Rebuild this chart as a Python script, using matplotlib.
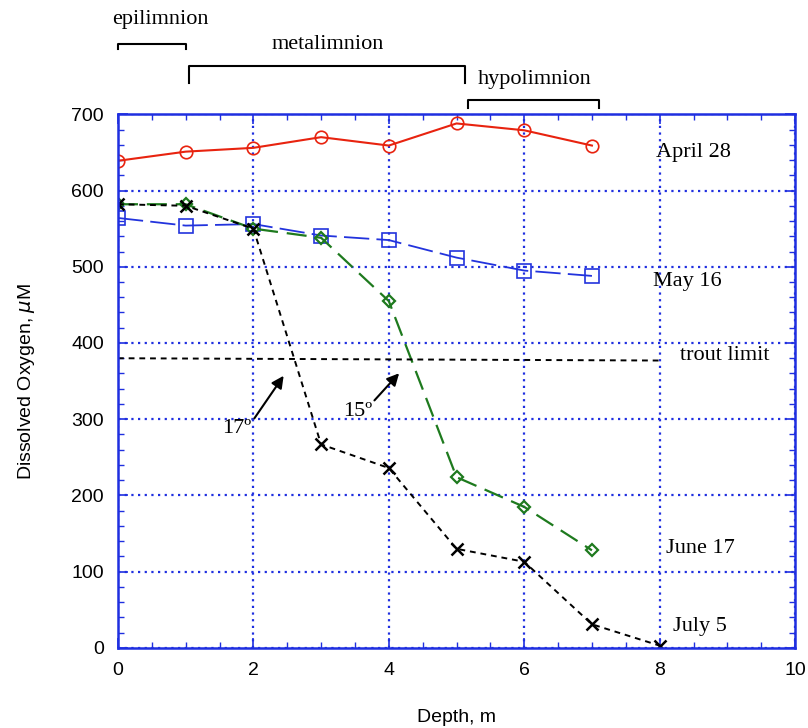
import matplotlib
matplotlib.use("Agg")
import matplotlib.pyplot as plt
from matplotlib.ticker import MultipleLocator

# depth (m) and dissolved oxygen (uM)
depth = [0, 1, 2, 3, 4, 5, 6, 7]
depth_jul = [0, 1, 2, 3, 4, 5, 6, 7, 8]
apr28 = [639, 651, 656, 670, 659, 688, 679, 659]
may16 = [564, 554, 556, 541, 535, 512, 495, 488]
jun17 = [582, 582, 550, 538, 455, 224, 185, 128]
jul05 = [582, 580, 550, 267, 236, 130, 113, 31, 3]
trout_x = [0, 8]
trout_y = [380, 377]

serif = ["Liberation Serif", "DejaVu Serif"]
sans = ["Liberation Sans", "DejaVu Sans"]
plt.rcParams['font.family'] = sans

fig = plt.figure(figsize=(8.08, 7.28), dpi=100)
ax = fig.add_axes([0.146, 0.110, 0.838, 0.733])

blue = "#1f2fe0"
ax.plot(depth, apr28, color="#e8230f", lw=1.5, marker="o", ms=9, mfc="none", mew=1.2)
ax.plot(depth, may16, color="#2233dd", lw=1.3, marker="s", ms=10, mfc="none", mew=1.2,
        dashes=(14, 4))
ax.plot(depth, jun17, color="#1e7a1e", lw=1.6, marker="D", ms=6.5, mfc="none", mew=1.6,
        dashes=(9, 4))
ax.plot(depth_jul, jul05, color="black", lw=1.4, marker="x", ms=9, mew=1.8,
        dashes=(3, 2.5))
ax.plot(trout_x, trout_y, color="black", lw=1.4, dashes=(3, 2.5))

ax.set_xlim(0, 10)
ax.set_ylim(0, 700)
ax.xaxis.set_major_locator(MultipleLocator(2))
ax.xaxis.set_minor_locator(MultipleLocator(0.5))
ax.yaxis.set_major_locator(MultipleLocator(100))
ax.yaxis.set_minor_locator(MultipleLocator(20))
ax.tick_params(which="both", direction="in", top=True, right=True, color=blue,
               labelsize=14)
ax.tick_params(which="major", length=7, width=1.2, pad=10)
ax.tick_params(which="minor", length=4, width=1)
for s in ax.spines.values():
    s.set_color(blue)
    s.set_linewidth(1.8)
ax.grid(True, which="major", color=blue, ls=(0, (1, 2)), lw=1.6)
ax.set_axisbelow(True)

ax.set_xlabel("Depth, m", fontsize=14, labelpad=22)
ax.set_ylabel("Dissolved Oxygen, $\\mu$M", fontsize=14, labelpad=25)

tk = dict(fontsize=16, family=serif)
ax.text(7.95, 650, "April 28", va="center", **tk)
ax.text(7.9, 481, "May 16", va="center", **tk)
ax.text(8.3, 383, "trout limit", va="center", **tk)
ax.text(8.1, 130, "June 17", va="center", **tk)
ax.text(8.2, 28, "July 5", va="center", **tk)

ax.annotate("", xy=(2.47, 360), xytext=(1.99, 298),
            arrowprops=dict(arrowstyle="-|>", color="black", lw=1.5, mutation_scale=18))
ax.text(1.97, 288, "17º", ha="right", va="center", **tk)
ax.annotate("", xy=(4.18, 363), xytext=(3.76, 322),
            arrowprops=dict(arrowstyle="-|>", color="black", lw=1.5, mutation_scale=18))
ax.text(3.75, 310, "15º", ha="right", va="center", **tk)

# layer brackets above the plot
brackets = [(0, 1.0, 792, 786), (1.05, 5.12, 763, 741), (5.17, 7.1, 719, 708)]
for x0, x1, ytop, ybot in brackets:
    ax.plot([x0, x0, x1, x1], [ybot, ytop, ytop, ybot], color="black", lw=1.5,
            clip_on=False)
for x, name, y in [(0.63, "epilimnion", 825), (3.1, "metalimnion", 791),
                   (6.15, "hypolimnion", 745)]:
    ax.text(x, y, name, ha="center", va="center", **tk)

fig.savefig("out.png", dpi=100)
